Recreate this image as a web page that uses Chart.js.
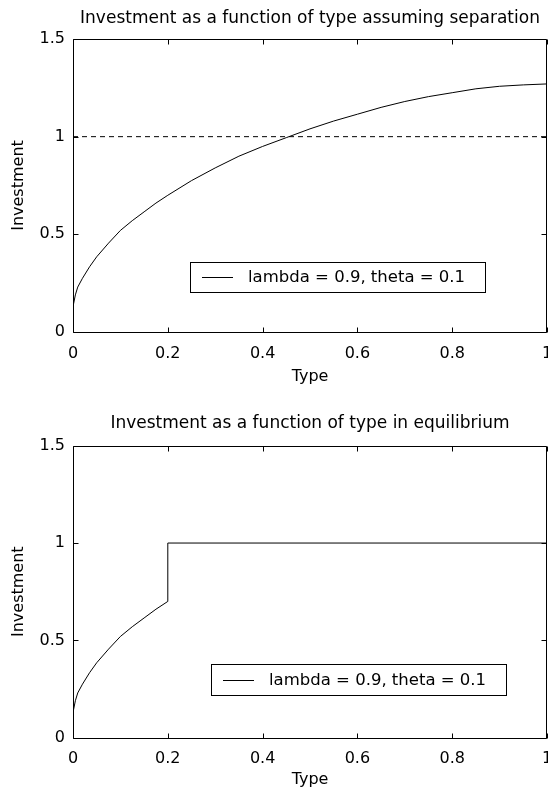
<!DOCTYPE html>
<html><head><meta charset="utf-8">
<script src="https://cdn.jsdelivr.net/npm/chart.js@4/dist/chart.umd.min.js"></script>
<style>
html,body{margin:0;padding:0;background:#fff;}
body{width:548px;height:796px;position:relative;overflow:hidden;}
canvas{position:absolute;left:0;}
#c1{top:0;}
#c2{top:406px;}
</style></head><body>
<canvas id="c1" width="548" height="398"></canvas>
<canvas id="c2" width="548" height="390"></canvas>
<script>
// ---- data ----
const typeX = [0, 0.005, 0.01, 0.02, 0.035, 0.05, 0.075, 0.1, 0.125, 0.15, 0.175, 0.2, 0.25, 0.3, 0.35, 0.4, 0.45, 0.5, 0.55, 0.6, 0.65, 0.7, 0.75, 0.8, 0.85, 0.9, 0.95, 1.0];
const sepInvestment = [0.13, 0.19, 0.23, 0.275, 0.334, 0.385, 0.455, 0.52, 0.57, 0.615, 0.66, 0.70, 0.775, 0.84, 0.90, 0.95, 0.995, 1.04, 1.08, 1.115, 1.15, 1.18, 1.205, 1.225, 1.245, 1.258, 1.265, 1.27];
const refX = [0, 1];
const refY = [1, 1];
const eqType = [0, 0.005, 0.01, 0.02, 0.035, 0.05, 0.075, 0.1, 0.125, 0.15, 0.175, 0.2, 0.2, 1.0];
const eqInvestment = [0.13, 0.19, 0.23, 0.275, 0.334, 0.385, 0.455, 0.52, 0.57, 0.615, 0.66, 0.70, 1.0, 1.0];
const xTickValues = [0, 0.2, 0.4, 0.6, 0.8, 1];
const xTickLabels = ['0', '0.2', '0.4', '0.6', '0.8', '1'];
const yTickValues = [0, 0.5, 1, 1.5];
const yTickLabels = ['0', '0.5', '1', '1.5'];
const legendLabel = 'lambda = 0.9, theta = 0.1';
const chartTitles = ['Investment as a function of type assuming separation', 'Investment as a function of type in equilibrium'];
const xAxisTitle = 'Type';
const yAxisTitle = 'Investment';

// ---- setup ----
Chart.defaults.font.family = "'DejaVu Sans', sans-serif";
Chart.defaults.font.size = 16;
Chart.defaults.color = '#000';

const toPoints = (xs, ys) => xs.map((x, i) => ({x: x, y: ys[i]}));

const matlabBox = {
  id: 'matlabBox',
  afterDatasetsDraw(chart) {
    const {ctx, chartArea: a, scales} = chart;
    const L = Math.round(a.left) + 0.5, R = Math.round(a.right) - 0.5;
    const T = Math.round(a.top) + 0.5, B = Math.round(a.bottom) + 0.5;
    const tl = 5;
    ctx.save();
    ctx.strokeStyle = '#000';
    ctx.lineWidth = 1;
    ctx.beginPath();
    ctx.rect(L, T, R - L, B - T);
    scales.x.ticks.forEach(t => {
      const px = Math.round(scales.x.getPixelForValue(t.value)) + 0.5;
      ctx.moveTo(px, B); ctx.lineTo(px, B - tl);
      ctx.moveTo(px, T); ctx.lineTo(px, T + tl);
    });
    scales.y.ticks.forEach(t => {
      const py = Math.round(scales.y.getPixelForValue(t.value)) + 0.5;
      ctx.moveTo(L, py); ctx.lineTo(L + tl, py);
      ctx.moveTo(R, py); ctx.lineTo(R - tl, py);
    });
    ctx.stroke();
    ctx.restore();
  }
};

const boxLegend = {
  id: 'boxLegend',
  afterDraw(chart, args, opts) {
    const ds = chart.data.datasets[0];
    const {ctx} = chart;
    const x = opts.x, y = opts.y, w = opts.w, h = opts.h;
    ctx.save();
    ctx.fillStyle = '#fff';
    ctx.fillRect(x, y, w, h);
    ctx.strokeStyle = '#000';
    ctx.lineWidth = 1;
    ctx.strokeRect(x + 0.5, y + 0.5, w, h);
    const cy = Math.round(y + h / 2) + 0.5;
    ctx.beginPath();
    ctx.moveTo(x + 12, cy);
    ctx.lineTo(x + 43, cy);
    ctx.strokeStyle = ds.borderColor;
    ctx.lineWidth = ds.borderWidth;
    ctx.stroke();
    ctx.fillStyle = '#000';
    ctx.font = "16.5px 'DejaVu Sans', sans-serif";
    ctx.textBaseline = 'middle';
    ctx.textAlign = 'left';
    ctx.fillText(ds.label, x + 58, y + h / 2 + 1);
    ctx.restore();
  }
};

function makeConfig(datasets, title, p) {
  return {
    type: 'line',
    data: {datasets: datasets},
    options: {
      responsive: false,
      animation: false,
      devicePixelRatio: 1,
      layout: {padding: {left: 0, right: 1, top: 0, bottom: 0}, autoPadding: false},
      elements: {point: {radius: 0}, line: {tension: 0}},
      plugins: {
        legend: {display: false},
        tooltip: {enabled: false},
        title: {
          display: true, text: title, fullSize: false,
          font: {size: 17, weight: 'normal', lineHeight: 1.2},
          padding: {top: p.titleTop, bottom: p.titleBottom}
        },
        boxLegend: p.legend
      },
      scales: {
        x: {
          type: 'linear', min: 0, max: 1,
          grid: {display: false, drawTicks: false},
          border: {display: false},
          afterBuildTicks: s => { s.ticks = xTickValues.map(v => ({value: v})); },
          afterFit: s => { s.height = p.xAxisHeight; s.paddingLeft = 0; s.paddingRight = 0; },
          ticks: {padding: 12, maxRotation: 0, autoSkip: false,
                  callback: (v, i) => xTickLabels[i]},
          title: {display: true, text: xAxisTitle, font: {size: 16}, padding: {top: 0, bottom: p.xTitleBottom}}
        },
        y: {
          type: 'linear', min: 0, max: 1.5,
          grid: {display: false, drawTicks: false},
          border: {display: false},
          afterBuildTicks: s => { s.ticks = yTickValues.map(v => ({value: v})); },
          afterFit: s => { s.width = 73; s.paddingTop = 0; s.paddingBottom = 0; },
          ticks: {padding: 8, autoSkip: false,
                  callback: (v, i) => yTickLabels[i]},
          title: {display: true, text: yAxisTitle, font: {size: 16}, padding: {top: 9, bottom: 0}}
        }
      }
    },
    plugins: [matlabBox, boxLegend]
  };
}

new Chart(document.getElementById('c1'), makeConfig([
  {label: legendLabel, data: toPoints(typeX, sepInvestment), borderColor: '#000', borderWidth: 1, fill: false},
  {label: 'reference', data: toPoints(refX, refY), borderColor: '#000', borderWidth: 1, borderDash: [5, 4], fill: false}
], chartTitles[0], {titleTop: 8.3, titleBottom: 10.3, xAxisHeight: 66, xTitleBottom: 11.4,
   legend: {x: 190, y: 262, w: 295, h: 30}}));

new Chart(document.getElementById('c2'), makeConfig([
  {label: legendLabel, data: toPoints(eqType, eqInvestment), borderColor: '#000', borderWidth: 1, fill: false}
], chartTitles[1], {titleTop: 7.1, titleBottom: 12.2, xAxisHeight: 58.3, xTitleBottom: 6.4,
   legend: {x: 211, y: 258, w: 295, h: 31}}));
</script>
</body></html>
